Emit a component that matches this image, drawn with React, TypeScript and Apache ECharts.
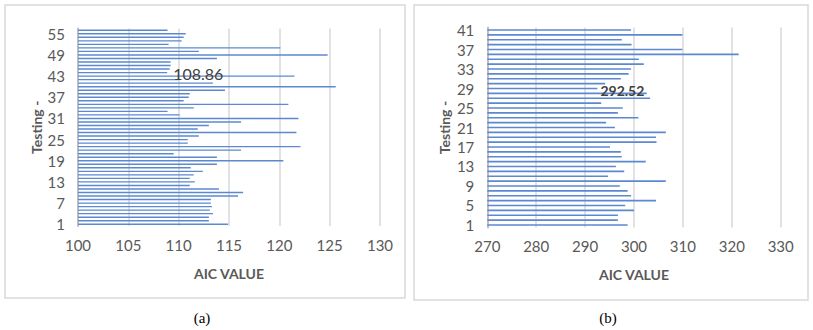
import React, { useEffect, useRef } from "react";
import * as echarts from "echarts";

// Panel (a): AIC values for testing cases 1..56
const catsA: string[] = Array.from({ length: 56 }, (_, i) => String(i + 1));
const valuesA: number[] = [
  114.9, 113.0, 113.0, 113.4, 113.1, 113.3, 113.2, 113.2, 115.9, 116.4,
  114.0, 111.1, 111.6, 111.1, 111.5, 112.4, 111.2, 113.8, 120.4, 113.8,
  109.5, 116.2, 122.1, 110.9, 110.9, 112.0, 121.7, 111.9, 113.0, 116.2,
  121.9, 110.1, 108.9, 111.5, 120.9, 110.5, 111.0, 111.1, 114.6, 125.6,
  113.4, 110.0, 121.5, 108.86, 109.1, 109.2, 109.2, 113.8, 124.8, 112.0,
  120.1, 109.0, 110.3, 110.5, 110.7, 108.9,
];
const labelIndexA = 43; // 108.86

// Panel (b): AIC values for testing cases 1..41
const catsB: string[] = Array.from({ length: 41 }, (_, i) => String(i + 1));
const valuesB: number[] = [
  298.7, 296.7, 296.7, 300.0, 298.2, 304.5, 299.4, 298.7, 297.1, 306.5,
  294.7, 298.0, 296.3, 302.4, 297.5, 297.3, 295.1, 304.6, 304.5, 306.5,
  296.1, 294.3, 300.9, 296.7, 297.7, 293.3, 303.3, 302.6, 292.52, 294.1,
  297.3, 298.9, 299.4, 302.0, 301.0, 321.4, 309.9, 299.5, 297.5, 309.9,
  299.4,
];
const labelIndexB = 28; // 292.52

const axisTextColor = "#595959";
const barColor = "#5c88d0";
const font = "Lato";

export default function App() {
  const ref = useRef<HTMLDivElement>(null);
  useEffect(() => {
    document.body.style.margin = "0";
    const chart = echarts.init(ref.current!, undefined, { renderer: "svg" });

    const dataA = valuesA.map((v, i) =>
      i === labelIndexA
        ? {
            value: v,
            label: {
              show: true,
              position: "right",
              distance: 6,
              formatter: "{c}",
              color: "#404040",
              fontSize: 16,
              fontFamily: font,
              offset: [0, 1],
            },
          }
        : v
    );
    const dataB = valuesB.map((v, i) =>
      i === labelIndexB
        ? {
            value: v,
            label: {
              show: true,
              position: "right",
              distance: 3,
              formatter: "{c}",
              color: "#404040",
              fontSize: 14,
              fontWeight: "bold",
              fontFamily: font,
              offset: [0, 2],
            },
          }
        : v
    );

    const xAxisCommon = (min: number, max: number, interval: number, gridIndex: number) => ({
      type: "value",
      gridIndex,
      min,
      max,
      interval,
      axisLine: { show: false },
      axisTick: { show: false },
      splitLine: { show: true, lineStyle: { color: "#d9d9d9", width: 1.5 } },
      axisLabel: { color: axisTextColor, fontSize: 15, fontFamily: font, margin: 11 },
      name: "AIC VALUE",
      nameLocation: "middle",
      nameGap: 40,
      nameTextStyle: { color: axisTextColor, fontSize: 14, fontWeight: "bold", fontFamily: font },
    });

    const yAxisCommon = (cats: string[], labelInterval: number, gridIndex: number, nameGap: number) => ({
      type: "category",
      gridIndex,
      data: cats,
      axisLine: { show: true, lineStyle: { color: "#bfbfbf", width: 2 } },
      axisTick: { show: false },
      splitLine: { show: false },
      axisLabel: {
        interval: labelInterval,
        color: axisTextColor,
        fontSize: 15,
        fontFamily: font,
        margin: 13,
      },
      name: "Testing -",
      nameLocation: "middle",
      nameGap,
      nameRotate: 90,
      nameTextStyle: { color: axisTextColor, fontSize: 14, fontWeight: "bold", fontFamily: font },
    });

    chart.setOption({
      animation: false,
      backgroundColor: "#ffffff",
      grid: [
        { left: 78, top: 28.5, width: 302, height: 197.5 },
        { left: 487.3, top: 27.6, width: 293.4, height: 199.8 },
      ],
      xAxis: [xAxisCommon(100, 130, 5, 0), xAxisCommon(270, 330, 10, 1)],
      yAxis: [yAxisCommon(catsA, 5, 0, 35), yAxisCommon(catsB, 3, 1, 36)],
      series: [
        {
          type: "bar",
          xAxisIndex: 0,
          yAxisIndex: 0,
          data: dataA,
          barWidth: 1.4,
          itemStyle: { color: barColor },
        },
        {
          type: "bar",
          xAxisIndex: 1,
          yAxisIndex: 1,
          data: dataB,
          barWidth: 1.6,
          itemStyle: { color: barColor },
        },
      ],
      graphic: [
        {
          type: "rect",
          shape: { x: 5, y: 5, width: 400, height: 293 },
          style: { fill: "none", stroke: "#d9d9d9", lineWidth: 1.5 },
          z: -1,
        },
        {
          type: "rect",
          shape: { x: 414, y: 5, width: 394, height: 295 },
          style: { fill: "none", stroke: "#d9d9d9", lineWidth: 1.5 },
          z: -1,
        },
        {
          type: "text",
          x: 202,
          y: 318,
          style: {
            text: "(a)",
            fill: "#000000",
            fontSize: 15,
            fontFamily: "Liberation Serif",
            align: "center",
            verticalAlign: "middle",
          },
        },
        {
          type: "text",
          x: 608,
          y: 318,
          style: {
            text: "(b)",
            fill: "#000000",
            fontSize: 15,
            fontFamily: "Liberation Serif",
            align: "center",
            verticalAlign: "middle",
          },
        },
      ],
    });
    return () => chart.dispose();
  }, []);
  return <div ref={ref} style={{ width: 813, height: 330 }} />;
}
